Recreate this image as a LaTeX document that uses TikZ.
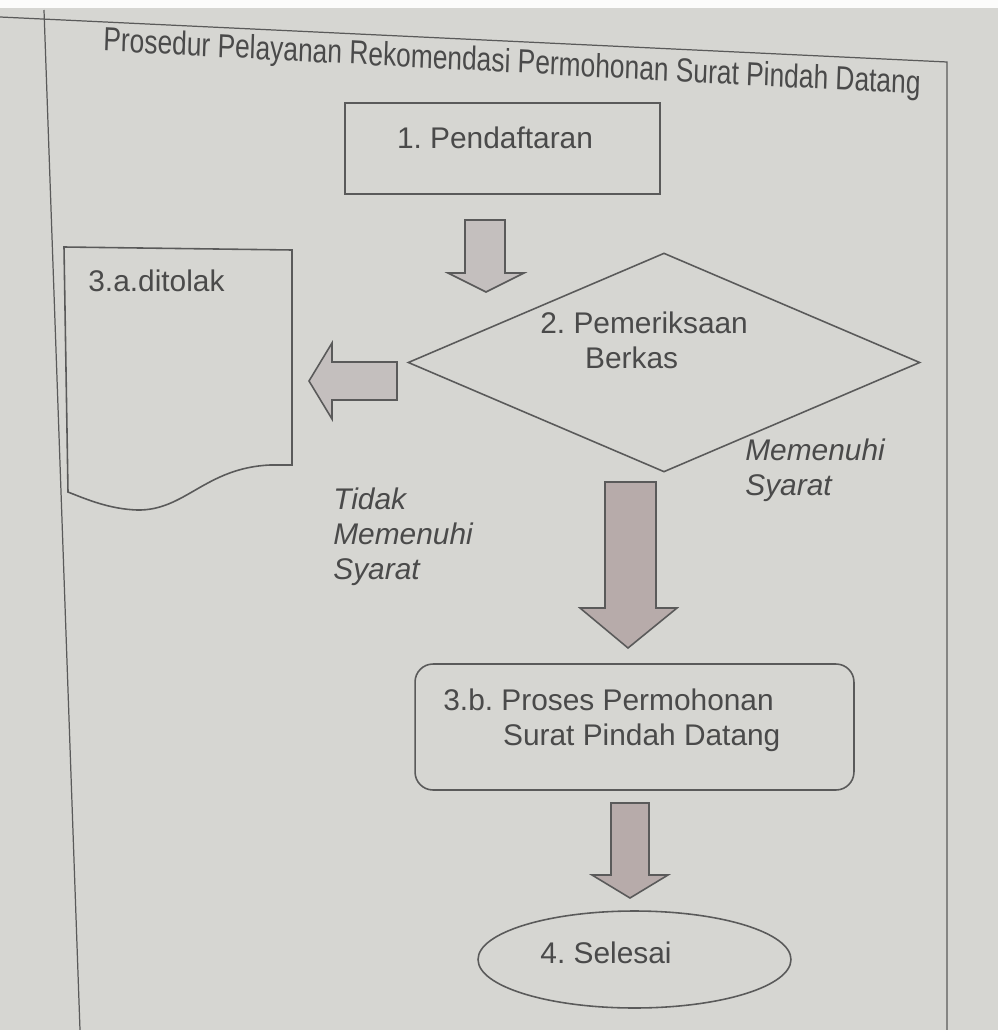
\documentclass[tikz,border=0pt]{standalone}
\usepackage{fontspec}
\setmainfont{Liberation Sans}
\frenchspacing
\usetikzlibrary{shapes.geometric}
\definecolor{bg}{HTML}{D6D6D2}
\definecolor{ink}{HTML}{5A5A5A}
\definecolor{txt}{HTML}{4A4A4A}
\definecolor{arrowA}{HTML}{C4BFBE}
\definecolor{arrowB}{HTML}{B7ABAA}
\begin{document}
\begin{tikzpicture}[x=0.02cm,y=-0.02cm,
  outline/.style={draw=ink, line width=0.9pt},
  lbl/.style={text=txt, font=\fontsize{17}{20}\selectfont, inner sep=0pt},
  ilbl/.style={lbl, font=\fontsize{17}{20}\selectfont\itshape, align=left},
  smallarrow/.style={draw=ink, line width=0.9pt, fill=arrowA, line join=miter},
  bigarrow/.style={draw=ink, line width=0.9pt, fill=arrowB, line join=miter}]
\fill[bg] (0,0) rectangle (998,1030);
\fill[white!92!bg] (0,0) rectangle (998,8);
\useasboundingbox (0,0) rectangle (998,1030);
% page frame
\coordinate (ftl) at (0,17);
\coordinate (ftr) at (947,62);
\coordinate (fbr) at (947,1030);
\coordinate (fl1) at (44,10);
\coordinate (fl2) at (80,1030);
\draw[outline, line width=0.7pt] (ftl) -- (ftr) -- (fbr);
\draw[outline, line width=0.7pt] (fl1) -- (fl2);
% title
\node[lbl, font=\fontsize{19}{23}\selectfont, xscale=0.79, rotate=-2.4] (title) at (512,64)
  {Prosedur Pelayanan Rekomendasi Permohonan Surat Pindah Datang};
% 1. Pendaftaran
\node[outline, minimum width=6.3cm, minimum height=1.82cm, inner sep=0pt] (pend) at (502.5,148.5) {};
\node[lbl] (pendtxt) at (495,138) {1. Pendaftaran};
% arrow 1
\draw[smallarrow] (465,220) -- (505,220) -- (505,273) -- (524,273) -- (486,292) -- (448,273) -- (465,273) -- cycle;
% 2. decision
\node[outline, diamond, minimum width=10.24cm, minimum height=4.38cm, inner sep=0pt] (check) at (664,362.5) {};
\node[lbl, align=left, anchor=west] (checktxt) at (540,340) {2. Pemeriksaan\\\hspace*{1.5em}Berkas};
% left arrow
\draw[smallarrow] (397,362) -- (332,362) -- (332,343) -- (309,381) -- (332,419) -- (332,400) -- (397,400) -- cycle;
% 3.a document
\coordinate (d1) at (64,247);
\coordinate (d2) at (292,250);
\coordinate (d3) at (292,465);
\coordinate (d4) at (270,465);
\coordinate (d5) at (137,510);
\coordinate (d6) at (68,492);
\draw[outline] (d1) -- (d2) -- (d3) -- (d4) .. controls (205,468) and (185,511) .. (d5) .. controls (110,509) and (88,500) .. (d6) -- cycle;
\node[lbl, anchor=west] (ditolak) at (88,281) {3.a.ditolak};
% labels
\node[ilbl, anchor=west] (tidak) at (333,537) {Tidak\\Memenuhi\\Syarat};
\node[ilbl, anchor=west] (memenuhi) at (745,470) {Memenuhi\\Syarat};
% big arrow
\draw[bigarrow] (605,482) -- (656,482) -- (656,608) -- (677,608) -- (628,648) -- (580,608) -- (605,608) -- cycle;
% 3.b process
\node[outline, rounded corners=0.36cm, minimum width=8.78cm, minimum height=2.52cm, inner sep=0pt] (proc) at (634.5,727) {};
\node[lbl, align=left, anchor=west] (proctxt) at (443,720) {3.b. Proses Permohonan\\\hspace*{2em}Surat Pindah Datang};
% arrow 3
\draw[bigarrow] (611,803) -- (649,803) -- (649,875) -- (668,875) -- (630,898) -- (592,875) -- (611,875) -- cycle;
% 4. end
\node[outline, ellipse, minimum width=6.26cm, minimum height=1.94cm, inner sep=0pt] (finish) at (634.5,959.5) {};
\node[lbl] (finishtxt) at (606,953) {4. Selesai};
\end{tikzpicture}
\end{document}
